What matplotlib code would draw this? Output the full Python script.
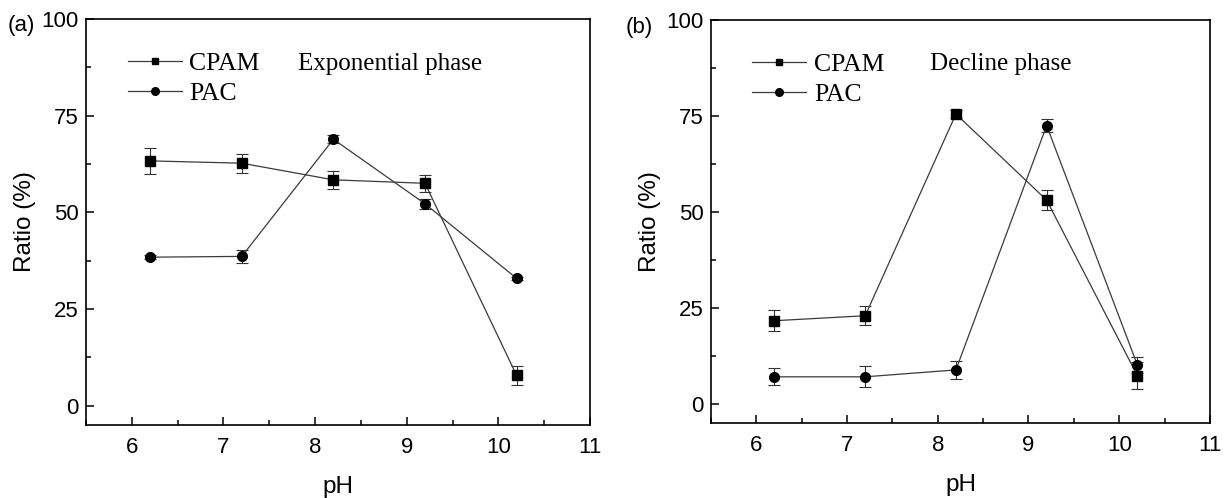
import matplotlib
matplotlib.use("Agg")
import matplotlib.pyplot as plt
from matplotlib.ticker import MultipleLocator
from matplotlib.lines import Line2D

ph = [6.2, 7.2, 8.2, 9.2, 10.2]

# Panel (a): Exponential phase
cpam_a = [63.3, 62.7, 58.4, 57.5, 7.8]
cpam_a_err = [3.4, 2.5, 2.3, 2.2, 2.5]
pac_a = [38.4, 38.6, 68.9, 52.2, 32.9]
pac_a_err = [0.5, 1.6, 1.0, 1.3, 0.5]

# Panel (b): Decline phase
cpam_b = [21.7, 23.0, 75.5, 53.1, 7.4]
cpam_b_err = [2.8, 2.5, 1.0, 2.6, 3.5]
pac_b = [7.1, 7.1, 8.9, 72.5, 10.2]
pac_b_err = [2.2, 2.7, 2.4, 1.7, 2.0]

series_names = ["CPAM", "PAC"]
panel_labels = ["(a)", "(b)"]
phase_labels = ["Exponential phase", "Decline phase"]
x_ticks = [6, 7, 8, 9, 10, 11]
y_ticks = [0, 25, 50, 75, 100]

sans = ["Liberation Sans", "DejaVu Sans"]
serif = ["Liberation Serif", "DejaVu Serif"]
plt.rcParams["font.family"] = sans

fig = plt.figure(figsize=(12.25, 4.98), dpi=100)
ax_a = fig.add_axes([0.0702, 0.1466, 0.4114, 0.8153])
ax_b = fig.add_axes([0.5804, 0.1500, 0.4073, 0.8100])

data = [
    (ax_a, cpam_a, cpam_a_err, pac_a, pac_a_err),
    (ax_b, cpam_b, cpam_b_err, pac_b, pac_b_err),
]

line_col = "#3a3a3a"
for i, (ax, c, ce, p, pe) in enumerate(data):
    ax.errorbar(ph, c, yerr=ce, fmt="-s", color=line_col, mfc="black", mec="black",
                ms=6.5, lw=0.9, elinewidth=0.8, ecolor="#333333", capsize=4, capthick=0.8,
                zorder=3)
    ax.errorbar(ph, p, yerr=pe, fmt="-o", color=line_col, mfc="black", mec="black",
                ms=7, lw=0.9, elinewidth=0.8, ecolor="#333333", capsize=4, capthick=0.8,
                zorder=3)
    ax.set_xlim(5.5, 11)
    ax.set_ylim(-5, 100)
    ax.set_xticks(x_ticks)
    ax.set_yticks(y_ticks)
    ax.xaxis.set_minor_locator(MultipleLocator(0.5))
    ax.yaxis.set_minor_locator(MultipleLocator(12.5))
    ax.tick_params(which="both", direction="in", top=False, right=False, labelsize=16,
                   width=1.1, color="black")
    ax.tick_params(which="major", length=6)
    ax.tick_params(which="minor", length=3.5)
    ax.tick_params(axis="x", pad=8.5)
    ax.tick_params(axis="y", pad=5.5)
    for s in ax.spines.values():
        s.set_linewidth(1.2)
    ax.set_xlabel("pH", fontsize=17.5, labelpad=13)
    ax.set_ylabel("Ratio (%)", fontsize=17.5, labelpad=4)
    handles = [
        Line2D([], [], color=line_col, lw=0.9, marker="s", ms=5, mfc="black", mec="black"),
        Line2D([], [], color=line_col, lw=0.9, marker="o", ms=5.5, mfc="black", mec="black"),
    ]
    ax.legend(handles, series_names, loc="upper left", bbox_to_anchor=(0.083, 0.918),
              frameon=False, borderpad=0, borderaxespad=0, handlelength=2.1,
              handletextpad=0.3, labelspacing=0.26, numpoints=1,
              prop={"family": serif, "size": 18.5})
    ax.text(0.42 if i == 0 else 0.439, 0.89, phase_labels[i], transform=ax.transAxes,
            fontsize=18, family=serif, ha="left", va="center")

fig.text(8 / 1225, 1 - 25 / 498, panel_labels[0], fontsize=16, ha="left", va="center")
fig.text(626 / 1225, 1 - 28 / 498, panel_labels[1], fontsize=16, ha="left", va="center")

fig.savefig("out.png", dpi=100)
